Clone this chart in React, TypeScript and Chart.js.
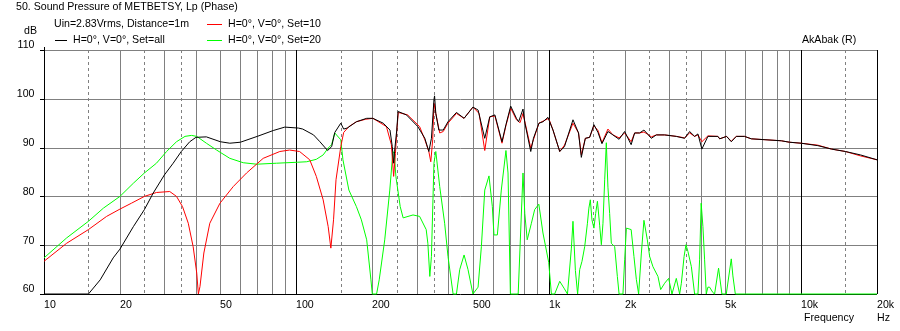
import React, { useEffect, useRef } from "react";
import { Chart, registerables } from "chart.js";

Chart.register(...registerables);

// ---- data (frequency in Hz, level in dB) ----
const blackFreq = [
  10, 15, 16.7, 18.8, 20, 22.6, 25, 27.1, 30, 32.5, 35, 37.8, 40, 44, 50, 54.5, 60, 70, 81, 90,
  102, 106, 117, 124, 133, 138, 142, 150, 154, 159, 173, 190, 201, 221, 235, 240, 243, 245, 250, 253,
  273, 303, 323, 335, 343, 351, 353, 357, 367, 382, 399, 431, 462, 501, 525, 558, 584, 612, 653, 677,
  707, 745, 760, 791, 805, 849, 870, 915, 950, 993, 1040, 1106, 1155, 1248, 1313, 1347, 1397, 1453, 1511, 1568,
  1626, 1717, 1797, 1901, 2000, 2122, 2191, 2293, 2385, 2474, 2551, 2670, 2880, 3204, 3456, 3618, 3787, 3903, 4046, 4275,
  4683, 4760, 5070, 5291, 5540, 5970, 6350, 8350, 9000, 10000, 11660, 13200, 15000, 17200, 20000,
];
const blackDb = [
  60, 60, 62.9, 67.4, 69.2, 73.8, 77.3, 80.7, 84.4, 86.8, 89.2, 91.2, 92.1, 92.2, 91.2, 90.9, 91.1, 92.3, 93.5, 94.2,
  94.0, 93.8, 92.6, 91.2, 89.4, 90.2, 93.1, 95.0, 93.8, 94.0, 95.3, 96.0, 96.0, 95.0, 93.6, 90.2, 86.8, 89.2, 93.6, 97.4,
  96.7, 94.3, 91.9, 89.2, 91.9, 99.8, 100.6, 97.0, 93.6, 93.6, 95.3, 97.2, 96.0, 98.3, 97.7, 91.9, 96.3, 96.7, 91.2, 94.7,
  98.5, 96.0, 95.3, 97.9, 95.0, 89.2, 91.9, 95.0, 95.3, 96.2, 93.6, 89.2, 90.2, 95.7, 93.0, 88.0, 91.9, 92.1, 94.7, 93.1,
  90.8, 93.3, 92.6, 91.7, 93.3, 90.6, 93.0, 93.0, 93.6, 92.7, 91.9, 92.6, 92.6, 92.3, 91.9, 93.3, 92.3, 92.8, 89.7, 92.3,
  92.3, 91.8, 92.3, 91.2, 92.3, 92.3, 91.8, 91.4, 91.1, 90.9, 90.4, 89.7, 89.2, 88.5, 87.5,
];

const redFreq = [
  10, 12.3, 15, 17.7, 20, 22.2, 25, 27.9, 31.5, 33.5, 35.4, 37.3, 39, 40.3, 40.9, 41.5, 43, 45.4, 49.8, 56.2,
  63.5, 73.9, 86, 94, 103, 113, 120, 127.7, 133.7, 137, 140.4, 143.6, 150, 154, 161.5, 173, 188, 201, 227.5, 238,
  243, 247, 250, 253.5, 276, 308, 323, 335, 341, 347, 351, 357, 370, 382, 399, 431, 462, 501, 530, 558,
  584, 612, 653, 677, 707, 745, 770, 791, 849, 870, 915, 1000, 1040, 1106, 1155, 1248, 1313, 1347, 1397, 1453,
  1511, 1568, 1626, 1717, 1797, 1901, 2000, 2122, 2191, 2293, 2385, 2474, 2551, 2670, 2880, 3204, 3456, 3618, 3787, 3903,
  4046, 4275, 4683, 4760, 5070, 5291, 5540, 5970, 6350, 8350, 9000, 10000, 11660, 13200, 15000, 17200, 20000,
];
const redDb = [
  66.7, 70.4, 73.2, 75.9, 77.4, 78.6, 80.0, 80.8, 81.0, 80.0, 77.9, 74.5, 69.7, 64.3, 60, 61.5, 68.4, 74.5, 78.6, 82.0,
  84.8, 87.8, 89.2, 89.5, 89.2, 87.5, 84.1, 79.3, 73.8, 69.4, 75.2, 83.4, 90.2, 93.1, 94.3, 95.3, 95.8, 96.0, 94.3, 90.6,
  84.1, 88.8, 93.3, 97.2, 96.7, 94.3, 91.6, 89.2, 87.1, 91.6, 99.1, 97.0, 93.0, 93.3, 95.0, 97.0, 96.0, 98.3, 97.0, 89.4,
  96.3, 96.5, 90.9, 94.5, 98.1, 95.7, 95.1, 97.0, 89.9, 91.6, 95.0, 96.0, 93.6, 89.2, 90.5, 95.0, 93.0, 88.5, 91.9, 92.1,
  94.5, 93.5, 91.0, 93.8, 92.6, 92.0, 93.0, 91.2, 93.0, 93.0, 93.2, 92.7, 92.2, 92.6, 92.6, 92.3, 92.0, 93.0, 92.3, 92.6,
  91.2, 92.4, 92.3, 91.8, 92.3, 91.3, 92.3, 92.3, 91.8, 91.4, 91.1, 90.9, 90.5, 89.7, 89.2, 88.3, 87.5,
];

const greenFreq = [
  10, 12.3, 15, 17.2, 20, 22.6, 25, 27.9, 30.6, 33.5, 36.2, 38.4, 40.3, 44, 48.3, 54.5, 61.6, 69.6, 83.5, 101,
  110, 120, 127.7, 133.7, 137.9, 142, 150, 153, 161.5, 173, 181, 190, 197.5, 200, 208, 213, 224, 234.6, 241, 244,
  248, 258, 265, 290, 308, 327, 332, 338, 343, 351, 357, 370, 387, 399, 418, 431, 444, 462, 479, 501,
  525, 541, 558, 580, 598, 607, 626, 649, 677, 690, 705, 757, 791, 804, 822, 854, 880, 914, 949, 1000,
  1025, 1056, 1106, 1150, 1187, 1230, 1248, 1276, 1302, 1327, 1355, 1389, 1424, 1443, 1462, 1484, 1511, 1535, 1560, 1592,
  1617, 1641, 1667, 1692, 1717, 1744, 1771, 1826, 1871, 1901, 1969, 2000, 2032, 2122, 2177, 2225, 2272, 2328, 2385, 2460,
  2512, 2589, 2710, 2778, 2880, 2987, 3080, 3204, 3303, 3355, 3440, 3500, 3563, 3676, 3787, 3903, 3963, 4020, 4085, 4148,
  4212, 4275, 4341, 4474, 4544, 4712, 4857, 5056, 5291, 5370, 5490, 20000,
];
const greenDb = [
  67.4, 71.5, 74.9, 77.6, 80.0, 82.7, 84.8, 86.8, 89.2, 91.2, 92.3, 92.5, 92.3, 90.9, 89.5, 87.8, 86.9, 86.6, 86.8, 87.0,
  87.1, 87.6, 88.5, 89.9, 90.6, 93.0, 91.6, 87.5, 81.3, 77.9, 75.2, 71.1, 62.9, 60, 60, 62.9, 71.1, 81.3, 88.8, 89.2,
  84.1, 77.9, 75.6, 76.2, 75.9, 73.2, 70.4, 63.6, 67.7, 86.8, 89.2, 82.0, 74.5, 67.7, 60, 60, 65, 68.0, 65, 60,
  61.4, 69.7, 81.3, 84.2, 77.9, 72.1, 72.1, 81.3, 89.4, 84.8, 60, 60, 84.8, 76.5, 71.1, 74.5, 77.3, 78.4, 72.5, 66.5,
  60, 60, 62.6, 61.2, 60, 69.4, 74.9, 64.8, 60, 65, 66.7, 69.7, 74.5, 77.6, 79.3, 75.2, 73.5, 76.5, 79.0, 74.1,
  70.1, 74.5, 83.4, 91.0, 81.9, 76.5, 70.4, 69.7, 63.6, 60, 60, 67.0, 73.5, 73.2, 67.7, 63.0, 60, 68.2, 75.1, 71.1,
  67.7, 65.6, 63.6, 60.9, 62.2, 63.2, 60, 63.2, 60, 62.2, 67.7, 70.1, 68.7, 65.6, 60, 60, 67, 78.6, 73.8, 67,
  60, 61.4, 61.4, 60.3, 60, 65.3, 60, 60, 67.2, 63.7, 60, 60,
];

const xTickValues = [10, 20, 50, 100, 200, 500, 1000, 2000, 5000, 10000, 20000];
const xTickLabels = ["10", "20", "50", "100", "200", "500", "1k", "2k", "5k", "10k", "20k"];
const yTickValues = [60, 70, 80, 90, 100, 110];
const decades = [10, 100, 1000, 10000];
const solidMultiples = [1, 2, 3, 4, 5, 6, 7, 8, 9];
const dashedMultiples = [1.5, 2.5, 3.5];
const titleText = "50. Sound Pressure of METBETSY, Lp (Phase)";
const infoText = "Uin=2.83Vrms, Distance=1m";
const seriesLabels = ["H=0°, V=0°, Set=all", "H=0°, V=0°, Set=10", "H=0°, V=0°, Set=20"];
const seriesColors = ["#000000", "#ff0000", "#00ff00"];

const FONT = "10.6px 'Liberation Sans', Arial, sans-serif";

const toPoints = (f: number[], d: number[]) => f.map((x, i) => ({ x, y: d[i] }));

const overlayPlugin = {
  id: "akabakOverlay",
  beforeDatasetsDraw(chart: any) {
    const ctx = chart.ctx as CanvasRenderingContext2D;
    const xs = chart.scales.x;
    const ys = chart.scales.y;
    const { top, bottom, left, right } = chart.chartArea;
    const crisp = (v: number) => Math.round(v) + 0.5;
    ctx.save();
    ctx.lineWidth = 1;
    for (const v of yTickValues) {
      const y = crisp(ys.getPixelForValue(v));
      ctx.strokeStyle = v === 60 ? "#000000" : "#808080";
      ctx.beginPath();
      ctx.moveTo(left, y);
      ctx.lineTo(right, y);
      ctx.stroke();
      ctx.strokeStyle = "#000000";
      ctx.beginPath();
      ctx.moveTo(left - 4, y);
      ctx.lineTo(left, y);
      ctx.stroke();
    }
    for (const d of decades) {
      for (const m of solidMultiples) {
        const f = d * m;
        if (f > 20000) continue;
        const x = crisp(xs.getPixelForValue(f));
        ctx.strokeStyle = m === 1 ? "#000000" : "#808080";
        ctx.setLineDash([]);
        ctx.beginPath();
        ctx.moveTo(x, m === 1 && d === 10 ? top - 3 : top);
        ctx.lineTo(x, bottom);
        ctx.stroke();
      }
      for (const m of dashedMultiples) {
        const f = d * m;
        if (f > 20000) continue;
        const x = crisp(xs.getPixelForValue(f));
        ctx.strokeStyle = "#808080";
        ctx.setLineDash([3, 3]);
        ctx.beginPath();
        ctx.moveTo(x, top);
        ctx.lineTo(x, bottom);
        ctx.stroke();
      }
    }
    ctx.setLineDash([]);
    const xr = crisp(xs.getPixelForValue(20000));
    ctx.strokeStyle = "#000000";
    ctx.beginPath();
    ctx.moveTo(xr, top);
    ctx.lineTo(xr, bottom);
    ctx.stroke();
    ctx.restore();
  },
  afterDraw(chart: any) {
    const ctx = chart.ctx as CanvasRenderingContext2D;
    const xs = chart.scales.x;
    const ys = chart.scales.y;
    ctx.save();
    ctx.font = FONT;
    ctx.fillStyle = "#000000";
    ctx.textBaseline = "middle";
    ctx.textAlign = "left";
    ctx.fillText(titleText, 16, 7.5);
    ctx.fillText(infoText, 54, 24.5);
    ctx.fillText("dB", 24, 31);
    ctx.fillText("AkAbak (R)", 802, 40.5);
    const legendPos = [
      { lx: 55, lw: 12, tx: 73, y: 40 },
      { lx: 207, lw: 15, tx: 228, y: 24 },
      { lx: 207, lw: 15, tx: 228, y: 40 },
    ];
    seriesLabels.forEach((lab, i) => {
      const p = legendPos[i];
      ctx.strokeStyle = seriesColors[i];
      ctx.lineWidth = 1;
      ctx.beginPath();
      ctx.moveTo(p.lx, p.y + 0.5);
      ctx.lineTo(p.lx + p.lw, p.y + 0.5);
      ctx.stroke();
      ctx.fillStyle = "#000000";
      ctx.fillText(lab, p.tx, p.y + 0.5);
    });
    ctx.textAlign = "right";
    for (const v of yTickValues) {
      ctx.fillText(String(v), 34.5, ys.getPixelForValue(v) - 4.5);
    }
    ctx.textAlign = "left";
    xTickValues.forEach((v, i) => {
      ctx.fillText(xTickLabels[i], Math.round(xs.getPixelForValue(v)), 305);
    });
    ctx.fillText("Frequency", 804, 318.5);
    ctx.fillText("Hz", 877, 318.5);
    ctx.restore();
  },
};

export default function App() {
  const canvasRef = useRef<HTMLCanvasElement | null>(null);
  useEffect(() => {
    document.body.style.margin = "0";
    const canvas = canvasRef.current;
    if (!canvas) return;
    const mk = (label: string, f: number[], d: number[], color: string) => ({
      label,
      data: toPoints(f, d),
      borderColor: color,
      backgroundColor: color,
      borderWidth: 1,
      pointRadius: 0,
      tension: 0,
      fill: false,
      clip: false as any,
    });
    const chart = new Chart(canvas, {
      type: "line",
      data: {
        datasets: [
          mk(seriesLabels[0], blackFreq, blackDb, seriesColors[0]),
          mk(seriesLabels[1], redFreq, redDb, seriesColors[1]),
          mk(seriesLabels[2], greenFreq, greenDb, seriesColors[2]),
        ],
      },
      options: {
        animation: false,
        responsive: false,
        devicePixelRatio: 1,
        layout: { padding: { left: 44, right: 23, top: 50, bottom: 37 } },
        plugins: { legend: { display: false }, tooltip: { enabled: false } },
        events: [],
        scales: {
          x: { type: "logarithmic", min: 10, max: 20000, display: false },
          y: { type: "linear", min: 60, max: 110, display: false },
        },
      },
      plugins: [overlayPlugin],
    });
    return () => chart.destroy();
  }, []);
  return (
    <div style={{ position: "absolute", left: 0, top: 0, width: 900, height: 331, background: "#fff" }}>
      <canvas ref={canvasRef} width={900} height={331} style={{ display: "block", width: 900, height: 331 }} />
    </div>
  );
}
